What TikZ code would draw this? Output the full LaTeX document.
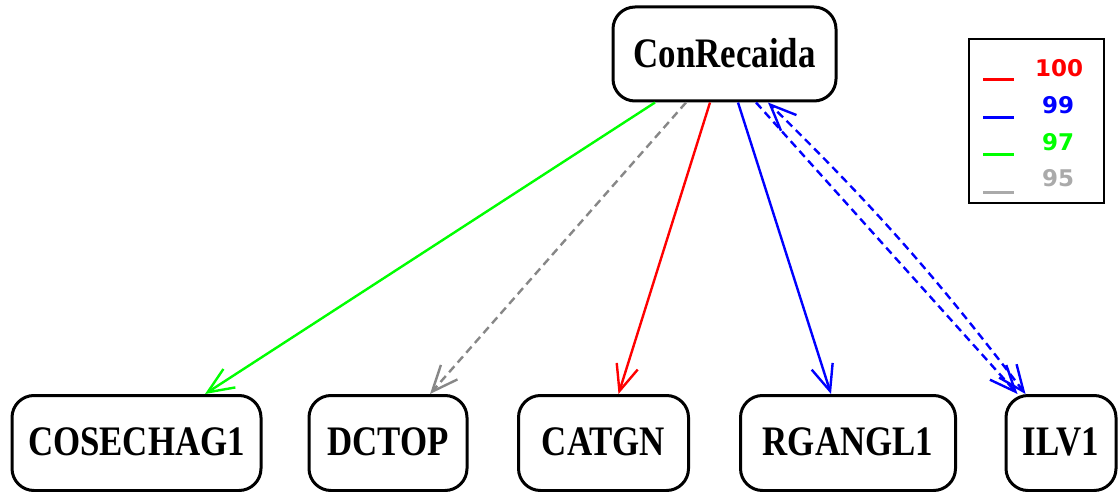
\documentclass[tikz,border=0pt]{standalone}
\usepackage{fontspec}
\usetikzlibrary{arrows.meta}
\newfontfamily\nodefont[FakeStretch=0.83]{Liberation Serif Bold}
\newfontfamily\legfont{DejaVu Sans Bold}
\definecolor{egreen}{RGB}{0,255,0}
\definecolor{ered}{RGB}{255,0,0}
\definecolor{eblue}{RGB}{0,0,255}
\definecolor{egrey}{RGB}{135,135,135}
\definecolor{lgrey}{RGB}{170,170,170}
\begin{document}
\begin{tikzpicture}[x=1pt,y=-1pt,
  vbox/.style={draw=black,line width=3pt,rounded corners=22pt,fill=white,
    inner sep=0pt,font=\nodefont\fontsize{42}{42}\selectfont},
  edge/.style={line width=2.4pt,-{Straight Barb[length=26pt,width=22pt,line width=2.4pt]}},
  dedge/.style={edge,dash pattern=on 8pt off 5pt},
  legline/.style={line width=3pt},
  legtxt/.style={font=\legfont\fontsize{23}{23}\selectfont,inner sep=0pt}]
\useasboundingbox (0,0) rectangle (1118,492);
\node[vbox,minimum width=223pt,minimum height=94pt] (top) at (724.5,54) {\raisebox{2pt}{ConRecaida}};
\node[vbox,minimum width=249pt,minimum height=95pt] (cos) at (136.5,443) {\raisebox{2pt}{COSECHAG1}};
\node[vbox,minimum width=158pt,minimum height=95pt] (dct) at (388,443) {\raisebox{2pt}{DCTOP}};
\node[vbox,minimum width=170pt,minimum height=95pt] (cat) at (603.5,443) {\raisebox{2pt}{CATGN}};
\node[vbox,minimum width=215pt,minimum height=95pt] (rga) at (848,443) {\raisebox{2pt}{RGANGL1}};
\node[vbox,minimum width=110pt,minimum height=95pt] (ilv) at (1061,443) {\raisebox{2pt}{ILV1}};
% edges
\draw[edge,egreen] ([xshift=-69.5pt]top.south) -- ([xshift=68.5pt]cos.north);
\draw[dedge,egrey] ([xshift=-38.5pt]top.south) -- ([xshift=42pt]dct.north);
\draw[edge,ered] ([xshift=-14.5pt]top.south) -- ([xshift=15pt]cat.north);
\draw[edge,eblue] ([xshift=13.5pt]top.south) -- ([xshift=-17pt]rga.north);
\draw[dedge,eblue] ([xshift=31.5pt]top.south) -- ([xshift=-43.5pt]ilv.north);
\draw[dedge,eblue,{Straight Barb[length=26pt,width=22pt,line width=2.4pt]}-{Straight Barb[length=26pt,width=22pt,line width=2.4pt]}] ([xshift=-35.5pt]ilv.north) to[bend right=4] ([xshift=43.5pt]top.south);
% legend
\node[draw=black,line width=2.4pt,minimum width=135pt,minimum height=164pt,inner sep=0pt] (leg) at (1036.5,121) {};
\draw[legline,ered] (983,80) -- (1014,80);
\draw[legline,eblue] (983,118) -- (1014,118);
\draw[legline,egreen] (983,154) -- (1014,154);
\draw[legline,lgrey] (983,192) -- (1014,192);
\node[legtxt,ered] (l100) at (1059,68) {100};
\node[legtxt,eblue] (l99) at (1058,105) {99};
\node[legtxt,egreen] (l97) at (1058,142) {97};
\node[legtxt,lgrey] (l95) at (1058,178) {95};
\end{tikzpicture}
\end{document}
